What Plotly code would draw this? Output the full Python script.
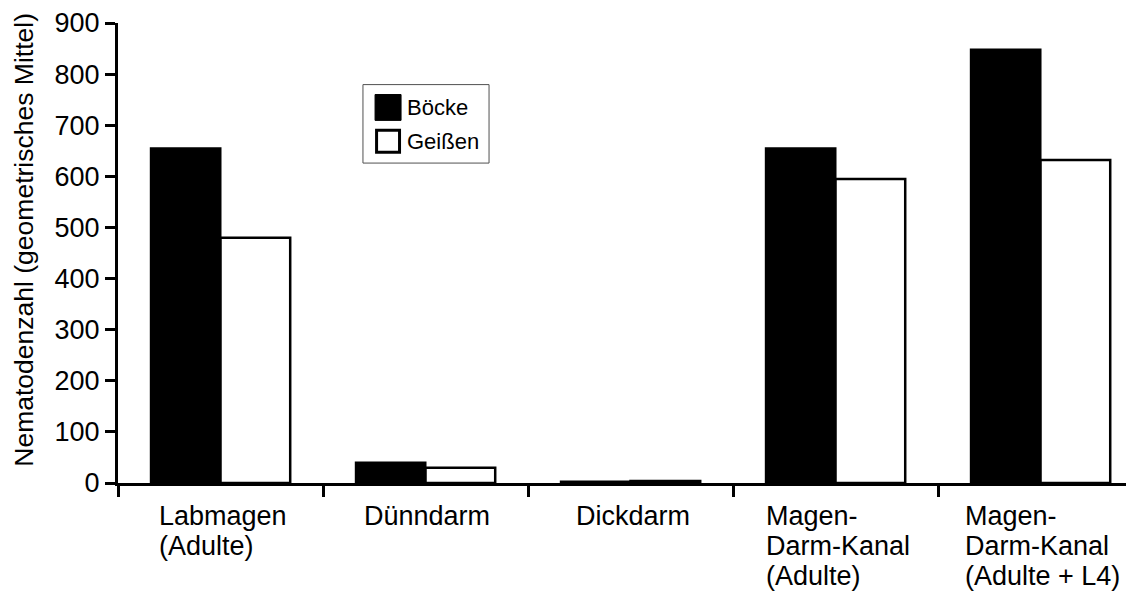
import plotly.graph_objects as go

categories = ["Labmagen<br>(Adulte)", "Dünndarm", "Dickdarm",
              "Magen-<br>Darm-Kanal<br>(Adulte)", "Magen-<br>Darm-Kanal<br>(Adulte + L4)"]
series_names = ["Böcke", "Geißen"]
boecke = [655, 40, 3, 655, 848]
geissen = [480, 30, 4, 595, 632]
y_ticks = [0, 100, 200, 300, 400, 500, 600, 700, 800, 900]
y_title = "Nematodenzahl (geometrisches Mittel)"

FONT = "Liberation Sans, Arial, sans-serif"
LABEL_SIZE = 27
xpos = list(range(len(categories)))

# Arial advance widths (per 1000 em) to centre left-aligned label blocks
ARIAL_W = {"L": 556, "a": 556, "b": 556, "m": 833, "g": 556, "e": 556, "n": 556,
           "(": 333, ")": 333, "A": 667, "d": 556, "u": 556, "l": 222, "t": 278,
           "M": 833, "-": 333, "D": 722, "r": 333, "K": 667, " ": 278, "+": 584,
           "4": 556, "ü": 556, "i": 222, "c": 500, "k": 500}


def text_width(s, size):
    return sum(ARIAL_W.get(ch, 556) for ch in s) * size / 1000.0


PX_PER_CAT = 1016 / 4.956  # plot width / x range

fig = go.Figure()
fig.add_trace(go.Bar(x=xpos, y=boecke, name=series_names[0], showlegend=False,
                     marker=dict(color="black", line=dict(color="black", width=2))))
fig.add_trace(go.Bar(x=xpos, y=geissen, name=series_names[1], showlegend=False,
                     marker=dict(color="white", line=dict(color="black", width=2.5))))

# category labels: block centred under category, lines left aligned
for i, c in enumerate(categories):
    lines = c.split("<br>")
    block_w = max(text_width(l, LABEL_SIZE) for l in lines)
    x_left = i - (block_w / 2) / PX_PER_CAT
    for k, line in enumerate(lines):
        fig.add_annotation(x=x_left, y=0, xref="x", yref="y", text=line,
                           xanchor="left", yanchor="top", align="left",
                           yshift=-16 - 30 * k, showarrow=False,
                           font=dict(family=FONT, size=LABEL_SIZE, color="black"))

# y axis title
fig.add_annotation(x=-0.0925, y=0.529, xref="paper", yref="paper", text=y_title,
                   textangle=-90, xanchor="center", yanchor="middle",
                   showarrow=False, font=dict(family=FONT, size=26.5, color="black"))

# legend box (manual, to match large swatches)
fig.add_shape(type="rect", xref="paper", yref="paper",
              x0=0.2411, x1=0.3652, y0=0.6955, y1=0.8661,
              line=dict(color="#505050", width=1), fillcolor="white", layer="above")
fig.add_shape(type="rect", xref="paper", yref="paper",
              x0=0.2530, x1=0.2786, y0=0.7883, y1=0.8445,
              line=dict(color="black", width=1), fillcolor="black", layer="above")
fig.add_shape(type="rect", xref="paper", yref="paper",
              x0=0.2545, x1=0.2771, y0=0.7190, y1=0.7670,
              line=dict(color="black", width=3), fillcolor="white", layer="above")
for name, yc in zip(series_names, [0.8164, 0.7430]):
    fig.add_annotation(x=0.2825, y=yc, xref="paper", yref="paper", text=name,
                       xanchor="left", yanchor="middle", showarrow=False,
                       font=dict(family=FONT, size=22, color="black"))

fig.update_layout(
    width=1126, height=585,
    margin=dict(l=110, r=0, t=12, b=110),
    paper_bgcolor="white", plot_bgcolor="white",
    barmode="group", bargap=0.32, bargroupgap=0,
    font=dict(family=FONT, size=27, color="black"),
    showlegend=False,
    xaxis=dict(range=[-0.5, 4.456], showgrid=False, zeroline=False,
               showline=True, linecolor="black", linewidth=3,
               tickmode="array", tickvals=[-0.5, 0.5, 1.5, 2.5, 3.5, 4.5],
               ticktext=[""] * 6, ticks="outside", ticklen=11, tickwidth=3,
               tickcolor="black"),
    yaxis=dict(range=[0, 900], showgrid=False, zeroline=False,
               showline=True, linecolor="black", linewidth=3,
               tickmode="array", tickvals=y_ticks, ticks="outside",
               ticklen=10, tickwidth=3, tickcolor="black",
               ticklabeloverflow="allow",
               tickfont=dict(family=FONT, size=27, color="black")),
)

fig.write_html("out.html")
